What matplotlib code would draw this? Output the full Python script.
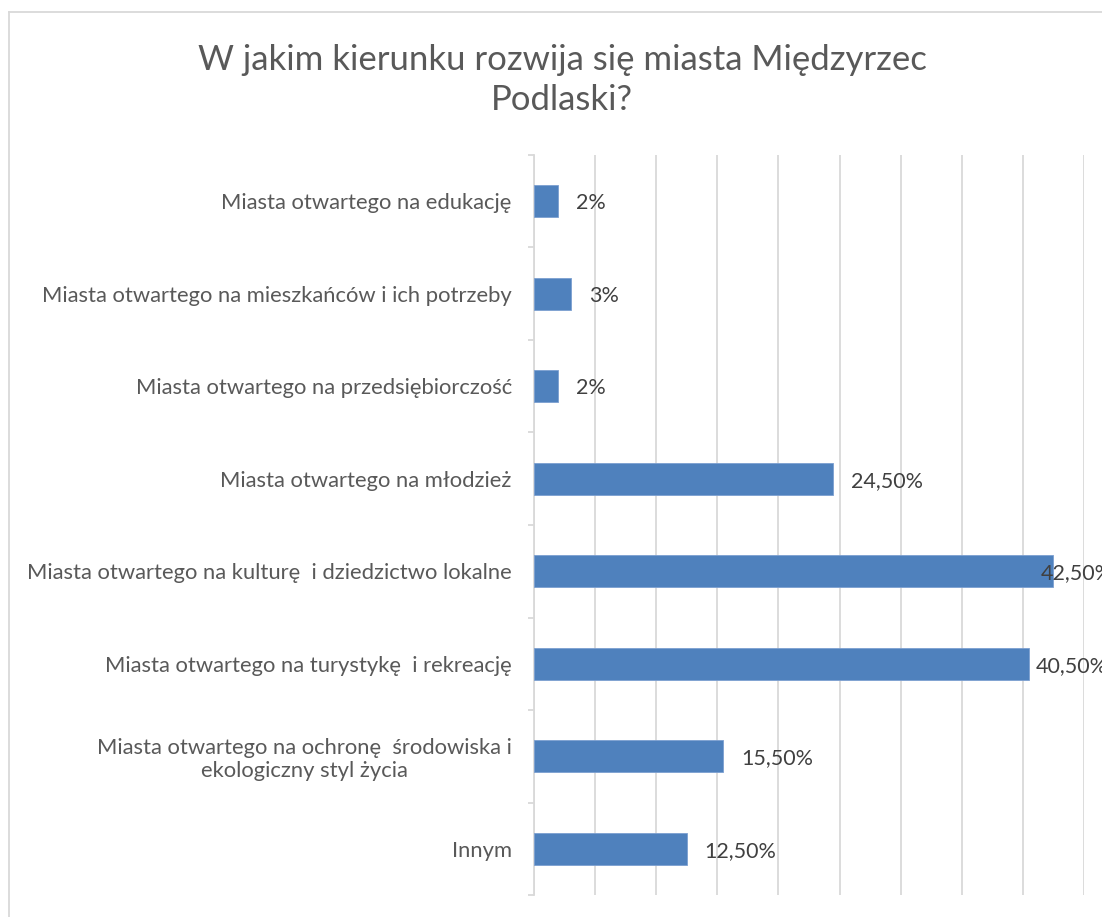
# wykres_kierunek_rozwoju.py
# Wykres słupkowy poziomy: w jakim kierunku rozwija się miasto Międzyrzec Podlaski.

import matplotlib
matplotlib.use("Agg")
import matplotlib.pyplot as plt
from matplotlib.lines import Line2D

# =========================
# 1) DANE
# =========================
KATEGORIE = [
    "Miasta otwartego na edukację",
    "Miasta otwartego na mieszkańców i ich potrzeby",
    "Miasta otwartego na przedsiębiorczość",
    "Miasta otwartego na młodzież",
    "Miasta otwartego na kulturę  i dziedzictwo lokalne",
    "Miasta otwartego na turystykę  i rekreację",
    "Miasta otwartego na ochronę  środowiska i\nekologiczny styl życia",
    "Innym",
]
PROCENTY = [2, 3, 2, 24.5, 42.5, 40.5, 15.5, 12.5]

TYTUL = "W jakim kierunku rozwija się miasta Międzyrzec\nPodlaski?"

# przesunięcia etykiet danych (w pikselach) - Excel dosuwa je przy prawej krawędzi
PRZESUNIECIA_ETYKIET = [18, 18, 18, 18, -13, 7, 18, 18]

KOLOR_SLUPKA = "#4F81BD"
KOLOR_SIATKI = "#D9D9D9"
KOLOR_TEKSTU = "#595959"
KOLOR_ETYKIET = "#404040"

SAIDA = "out.png"


def etykieta(v: float) -> str:
    if float(v).is_integer():
        return f"{int(v)}%"
    return f"{v:.2f}%".replace(".", ",")


def main():
    plt.rcParams["font.family"] = ["Lato", "DejaVu Sans"]

    W, H = 1102, 917
    fig = plt.figure(figsize=(W / 100, H / 100), dpi=100)
    fig.patch.set_facecolor("white")

    # ramka wykresu (prawa i dolna krawędź poza obrazkiem)
    fig.add_artist(Line2D([9 / W, 1.0], [1 - 12 / H, 1 - 12 / H], color=KOLOR_SIATKI, lw=1.3))
    fig.add_artist(Line2D([9 / W, 9 / W], [0.0, 1 - 12 / H], color=KOLOR_SIATKI, lw=1.3))

    ax = fig.add_axes([534 / W, 1 - 895 / H, (1084 - 534) / W, (895 - 155) / H])

    pozycje = list(range(len(KATEGORIE)))
    ax.barh(pozycje, PROCENTY, height=0.35, color=KOLOR_SLUPKA,
            edgecolor="#7C9FD0", linewidth=0.6, zorder=3)

    ax.set_xlim(0, 45)
    ax.set_ylim(len(KATEGORIE) - 0.5, -0.5)

    # siatka pionowa co 5%
    ax.set_xticks(range(0, 46, 5))
    ax.xaxis.grid(True, color=KOLOR_SIATKI, linewidth=1.3, zorder=0)
    ax.tick_params(axis="x", length=0, labelbottom=False)

    # etykiety kategorii + znaczniki na granicach kategorii
    ax.set_yticks(pozycje)
    ax.set_yticklabels(KATEGORIE, fontsize=15.8, color=KOLOR_TEKSTU, multialignment="center")
    ax.tick_params(axis="y", which="major", length=0, pad=16)
    ax.set_yticks([p - 0.5 for p in pozycje] + [len(KATEGORIE) - 0.5], minor=True)
    ax.tick_params(axis="y", which="minor", length=4, width=1.3, color=KOLOR_SIATKI)

    for lado in ["top", "right", "bottom"]:
        ax.spines[lado].set_visible(False)
    ax.spines["left"].set_color(KOLOR_SIATKI)
    ax.spines["left"].set_linewidth(1.3)

    # etykiety danych
    for p, v, dx in zip(pozycje, PROCENTY, PRZESUNIECIA_ETYKIET):
        ax.annotate(etykieta(v), xy=(v, p), xytext=(dx * 0.72, -1.5), textcoords="offset points",
                    ha="left", va="center", fontsize=15.5, color=KOLOR_ETYKIET,
                    annotation_clip=False, zorder=4)

    fig.text(562 / W, 1 - 80 / H, TYTUL, ha="center", va="center", fontsize=25,
             color=KOLOR_TEKSTU, linespacing=1.33)

    fig.savefig(SAIDA, dpi=100)


if __name__ == "__main__":
    main()
